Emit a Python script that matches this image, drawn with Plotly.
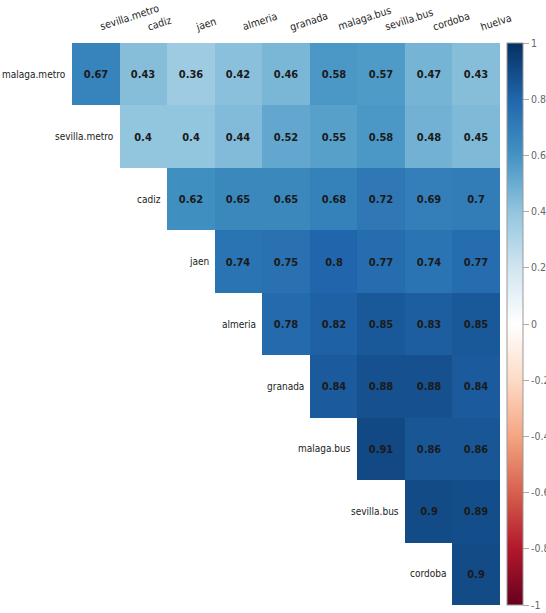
import plotly.graph_objects as go

rows = ["malaga.metro", "sevilla.metro", "cadiz", "jaen", "almeria",
        "granada", "malaga.bus", "sevilla.bus", "cordoba"]
cols = ["sevilla.metro", "cadiz", "jaen", "almeria", "granada",
        "malaga.bus", "sevilla.bus", "cordoba", "huelva"]

r_malaga_metro = [0.67, 0.43, 0.36, 0.42, 0.46, 0.58, 0.57, 0.47, 0.43]
r_sevilla_metro = [0.4, 0.4, 0.44, 0.52, 0.55, 0.58, 0.48, 0.45]
r_cadiz = [0.62, 0.65, 0.65, 0.68, 0.72, 0.69, 0.7]
r_jaen = [0.74, 0.75, 0.8, 0.77, 0.74, 0.77]
r_almeria = [0.78, 0.82, 0.85, 0.83, 0.85]
r_granada = [0.84, 0.88, 0.88, 0.84]
r_malaga_bus = [0.91, 0.86, 0.86]
r_sevilla_bus = [0.9, 0.89]
r_cordoba = [0.9]

row_values = [r_malaga_metro, r_sevilla_metro, r_cadiz, r_jaen, r_almeria,
              r_granada, r_malaga_bus, r_sevilla_bus, r_cordoba]

cbar_ticks = [1, 0.8, 0.6, 0.4, 0.2, 0, -0.2, -0.4, -0.6, -0.8, -1]

palette = ["#67001F", "#B2182B", "#D6604D", "#F4A582", "#FDDBC7", "#FFFFFF",
           "#D1E5F0", "#92C5DE", "#4393C3", "#2166AC", "#053061"]
colorscale = [[i / (len(palette) - 1), c] for i, c in enumerate(palette)]

n = len(cols)
z = []
text = []
for i, vals in enumerate(row_values):
    pad = n - len(vals)
    z.append([None] * pad + vals)
    text.append([""] * pad + [f"{v:g}" for v in vals])

FONT = "DejaVu Sans Condensed, Liberation Sans Narrow, Liberation Sans, sans-serif"

fig = go.Figure(go.Heatmap(
    x=cols, y=rows, z=z, text=text, texttemplate="%{text}",
    textfont=dict(family=FONT, size=11, color="#1a1a1a", weight="bold"),
    colorscale=colorscale, zmin=-1, zmax=1, xgap=0, ygap=0,
    hoverongaps=False,
    colorbar=dict(
        x=1.0164, xanchor="left", y=0.5, yanchor="middle",
        len=1.0, lenmode="fraction", thickness=16,
        xpad=0, ypad=0,
        outlinewidth=1, outlinecolor="#999999",
        tickvals=cbar_ticks, ticktext=[f"{t:g}" for t in cbar_ticks],
        ticks="outside", ticklen=6, tickcolor="#aaaaaa",
        tickfont=dict(family=FONT, size=10.5, color="#666666"),
    ),
))

annotations = []
for i, name in enumerate(rows):
    annotations.append(dict(
        x=i - 0.5, y=name, xref="x", yref="y", text=name, showarrow=False,
        xanchor="right", yanchor="middle", xshift=-4,
        font=dict(family=FONT, size=10, color="#222222"),
    ))
for j, name in enumerate(cols):
    annotations.append(dict(
        x=j, y=1, xref="x", yref="paper", text=name, showarrow=False,
        xanchor="left", yanchor="bottom", yshift=8, textangle=-18,
        font=dict(family=FONT, size=10.5, color="#222222"),
    ))

fig.update_layout(
    width=546, height=613,
    margin=dict(l=72, r=46, t=43, b=8, autoexpand=False),
    paper_bgcolor="white", plot_bgcolor="white",
    xaxis=dict(visible=False, range=[-0.5, n - 0.5]),
    yaxis=dict(visible=False, autorange="reversed"),
    annotations=annotations,
)

fig.write_html(
    "out.html",
    config={"displayModeBar": False},
    post_script="document.body.style.margin='0';document.body.style.overflow='hidden';",
)
